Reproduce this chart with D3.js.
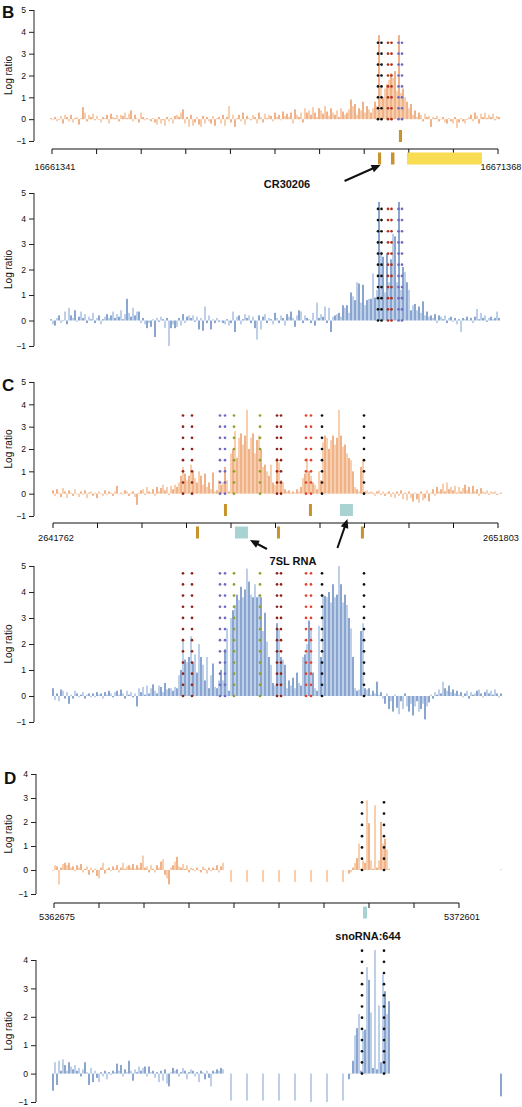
<!DOCTYPE html>
<html><head><meta charset="utf-8">
<script src="https://cdn.jsdelivr.net/npm/d3@7"></script>
<style>body{margin:0;background:#fff}svg{display:block}text{font-family:"Liberation Sans",Arial,Helvetica,sans-serif}</style>
</head><body><svg id="c" width="522" height="1107"></svg>
<script>
// ---------- DATA ----------
const bTop=[0.05,-0.05,0.1,-0.1,0.0,0.15,-0.2,0.2,0.1,-0.1,
0.2,-0.15,0.05,0.1,-0.25,0.05,0.55,0.3,-0.1,0.2,
0.1,0.25,-0.05,0.15,0.0,-0.15,0.1,0.05,0.2,-0.2,
0.25,0.1,0.05,0.2,-0.1,0.2,0.15,0.3,0.05,0.25,
0.4,-0.1,0.2,0.05,-0.15,0.3,0.1,-0.05,0.05,0.0,
-0.1,0.05,-0.15,-0.25,0.1,-0.2,-0.05,-0.3,0.1,-0.1,
0.05,-0.2,0.15,0.2,0.1,0.3,0.45,-0.2,0.1,-0.35,
0.2,-0.3,-0.15,0.1,-0.25,-0.35,0.15,-0.2,0.1,-0.1,
-0.2,0.15,-0.3,0.05,0.1,-0.2,0.2,-0.3,0.1,0.6,
-0.15,0.2,-0.35,0.05,0.2,-0.1,0.3,-0.25,0.15,0.05,
-0.05,0.2,0.1,-0.2,0.3,0.1,-0.15,0.25,0.05,0.2,
0.15,-0.1,0.3,0.1,0.2,-0.05,0.35,0.15,0.25,0.1,
0.3,-0.2,0.45,0.2,0.1,0.3,-0.15,0.5,0.3,0.4,
0.2,0.55,0.3,0.1,0.5,0.4,0.25,0.6,0.35,0.15,
0.5,0.3,0.2,0.4,0.1,0.5,0.35,0.2,0.3,0.45,
0.9,0.6,0.7,0.2,0.5,0.4,0.8,0.3,0.6,0.45,
0.3,0.5,0.8,0.6,3.85,1.5,1.0,1.4,1.6,1.8,
2.1,1.9,2.2,1.3,3.85,1.2,1.4,1.0,0.8,0.5,
0.7,0.2,0.4,0.1,0.3,0.2,-0.1,0.25,0.1,0.15,
-0.35,0.1,0.05,0.15,-0.1,0.0,0.1,-0.15,-0.2,0.05,
-0.1,-0.2,0.1,-0.4,-0.15,0.05,-0.1,-0.2,0.0,0.1,
0.2,-0.1,0.3,0.15,-0.2,0.25,0.1,0.3,0.05,0.2,
0.1,0.25,-0.05,0.15,0.1];
const bBot=[0.05,-0.15,-0.2,0.1,0.2,-0.1,0.0,0.35,-0.15,0.5,
0.2,0.1,0.4,-0.05,0.15,0.35,0.1,0.25,-0.1,0.15,
0.05,0.3,-0.1,0.1,0.2,-0.15,0.05,0.15,0.25,0.1,
0.2,0.35,0.1,0.25,0.15,0.4,0.05,0.25,0.85,0.3,
0.15,0.5,0.2,0.35,0.35,-0.1,0.1,-0.15,-0.3,-0.1,
-0.25,0.05,-0.65,0.1,-0.05,0.15,0.05,-0.3,0.1,-1.0,
-0.3,-0.15,-0.3,-0.25,0.1,-0.2,0.25,-0.1,0.15,0.2,
0.1,0.2,-0.05,0.15,-0.35,0.1,-0.4,0.55,-0.1,0.2,
-0.35,0.05,-0.1,0.1,-0.05,0.0,-0.1,-0.15,0.05,-0.2,
-0.1,0.35,-0.45,0.15,0.2,-0.15,0.05,0.25,0.1,0.2,
-0.1,0.15,-0.3,-0.75,0.2,-0.35,0.15,0.25,-0.1,0.1,
0.05,-0.15,0.3,0.1,-0.1,0.2,0.1,-0.2,0.25,0.15,
0.35,0.1,-0.25,0.2,0.4,0.35,-0.1,0.2,0.1,0.05,
-0.1,0.3,-0.2,0.7,0.1,0.25,0.15,0.55,-0.1,0.5,
-0.45,0.15,0.2,0.25,0.3,0.15,0.6,0.5,0.6,0.3,
1.1,0.95,0.8,1.5,1.45,0.7,1.4,0.6,0.8,0.85,
0.85,1.85,0.9,1.2,4.65,2.7,2.5,1.1,2.6,1.5,
2.4,3.4,3.3,1.5,4.65,1.2,2.1,1.9,1.5,1.2,
0.4,0.6,0.65,0.4,0.55,0.3,0.75,0.2,0.35,0.15,
0.2,0.1,0.25,-0.1,0.2,0.15,0.05,0.2,-0.1,0.1,
0.15,-0.05,0.1,-0.15,0.05,-0.45,0.1,0.05,0.15,0.0,
0.1,-0.1,0.15,0.45,0.05,0.3,0.1,0.2,-0.05,0.1,
0.15,0.05,0.1,0.35,0.1];
const cTop=[0.15,-0.1,0.2,0.05,-0.15,0.25,0.1,-0.2,0.15,0.05,
-0.1,0.2,0.0,-0.15,0.1,-0.05,0.15,-0.2,0.05,0.1,
-0.1,0.05,-0.2,0.1,0.0,-0.1,0.15,-0.05,0.1,0.05,
-0.1,0.1,0.35,0.0,0.05,-0.05,0.15,0.1,-0.1,0.05,
0.1,-0.15,-0.5,0.05,0.15,0.2,-0.05,0.3,0.1,0.05,
0.2,-0.1,0.3,0.1,0.25,0.4,0.15,0.3,-0.05,0.35,
0.2,0.4,0.3,0.5,0.8,1.2,0.9,0.6,0.8,1.3,
1.0,0.7,0.5,1.0,0.8,0.4,0.9,0.3,0.5,0.2,
0.95,0.1,0.15,0.6,0.4,0.5,1.2,0.6,0.1,1.8,
2.0,2.8,1.6,2.5,2.7,2.2,2.6,3.75,2.0,2.5,
2.7,1.8,2.4,2.6,2.0,1.2,1.3,1.0,0.8,1.3,
0.5,0.4,1.6,1.4,0.6,0.5,0.2,0.1,0.15,0.05,
0.1,0.05,0.2,0.1,0.3,0.7,0.9,1.6,1.0,0.8,
0.5,0.4,0.2,1.0,0.6,2.3,2.6,2.5,2.0,2.4,
2.6,2.2,2.5,3.75,2.6,2.1,2.2,1.8,1.6,1.5,
1.0,0.3,0.2,0.1,1.2,1.55,0.1,0.15,0.05,0.1,
0.05,-0.1,0.1,0.15,-0.05,0.1,-0.1,0.05,0.1,-0.15,
0.05,-0.2,0.1,-0.1,0.15,-0.25,0.05,-0.3,0.1,-0.2,
-0.35,0.05,-0.25,-0.4,0.1,-0.3,-0.2,0.15,-0.35,0.05,
0.2,-0.1,0.3,0.1,0.2,0.45,0.1,0.5,0.2,0.3,
0.15,0.35,0.05,0.3,0.1,0.25,0.4,0.15,0.3,0.05,
0.35,0.1,0.2,-0.1,0.25,0.1,0.05,0.15,-0.05,0.1,
0.05,0.1,-0.05,0.0,0.05];
const cBot=[0.3,-0.15,0.1,-0.2,0.25,0.2,-0.1,0.15,-0.3,0.05,
-0.1,0.2,0.1,-0.05,0.05,0.15,-0.1,0.05,0.1,-0.05,
0.1,-0.05,0.15,0.05,0.1,-0.1,0.15,0.05,0.2,0.1,
-0.05,0.15,0.2,0.05,0.25,0.1,-0.1,0.2,0.05,0.15,
-0.05,0.1,-0.4,0.3,0.15,0.35,0.05,0.4,0.1,0.3,
0.45,0.2,0.1,0.4,0.35,0.15,0.5,0.25,0.3,0.3,
0.2,0.35,0.3,0.8,1.0,2.2,1.4,1.3,1.5,2.3,
1.3,1.6,0.9,2.0,1.5,1.2,0.6,1.5,0.3,0.8,
1.25,0.35,0.3,0.6,1.0,0.6,1.8,2.6,0.2,3.0,
3.3,3.5,3.9,3.7,4.2,3.8,4.1,4.9,4.4,3.9,
3.8,4.3,3.8,3.9,3.8,2.5,3.2,2.1,1.5,1.2,
0.5,0.4,2.8,2.6,1.5,1.4,1.2,0.3,0.6,0.4,
0.7,0.3,0.9,0.5,0.4,1.5,1.6,2.0,2.9,2.6,
0.9,0.3,0.2,2.7,1.5,3.9,3.85,3.8,4.0,3.6,
4.3,3.8,3.9,5.0,4.3,3.6,3.9,3.5,3.0,2.6,
1.5,0.3,0.2,0.25,2.5,2.8,0.3,0.25,0.3,0.05,
0.2,0.1,0.55,0.05,0.15,-0.1,-0.3,0.1,-0.5,-0.2,
-0.6,0.05,-0.45,-0.7,-0.2,-0.5,0.1,-0.4,-0.6,-0.3,
-0.75,-0.4,-0.2,-0.6,-0.5,-0.3,-0.9,-0.4,-0.25,0.05,
-0.1,0.15,0.05,0.25,0.1,0.55,0.3,0.2,0.4,0.15,
0.25,0.1,0.2,0.05,0.15,-0.05,0.1,0.2,-0.1,0.15,
0.05,0.1,0.2,0.25,0.1,-0.05,0.15,0.25,0.1,0.2,
0.05,0.25,0.1,-0.05,0.1];
// panel D: probes only where tiled (indices), values per segment
const dNoiseTop=[0.0,0.2,0.15,-0.6,0.1,0.25,0.3,0.2,0.3,0.1,
0.15,-0.05,0.2,0.1,0.25,-0.1,0.05,0.15,-0.2,0.1,
-0.1,0.05,-0.25,-0.35,0.1,0.3,-0.15,0.05,0.1,-0.05,
0.15,0.05,0.2,-0.1,0.1,0.3,0.05,0.15,0.2,0.1,
0.25,0.05,0.2,0.1,0.3,0.6,0.1,0.15,-0.1,0.2,
0.05,-0.1,0.2,0.1,0.35,0.45,-0.2,-0.35,-0.6,0.1,
0.2,0.35,0.55,0.15,0.1,0.25,0.05,0.2,-0.1,0.1,
0.05,-0.05,0.1,0.0,-0.1,0.15,0.05,-0.15,0.1,-0.05,
0.1,0.05,0.2,-0.1,0.15,0.3];
const dNoiseBot=[-0.6,0.4,-0.4,0.45,0.1,0.5,0.3,0.1,0.4,0.25,
0.15,0.3,0.1,0.2,-0.1,0.15,0.4,0.05,-0.4,0.2,
-0.3,0.1,-0.15,-0.3,0.05,-0.1,0.1,-0.2,0.05,-0.05,
0.1,0.05,0.35,0.1,0.3,-0.1,0.15,0.05,0.45,0.1,
-0.25,0.15,0.05,0.25,0.1,0.2,0.25,-0.1,0.25,0.05,
0.1,-0.15,0.05,-0.3,0.1,-0.25,0.15,-0.35,-0.45,0.05,
0.2,0.1,0.15,-0.1,0.05,0.2,0.1,-0.2,0.05,0.15,
0.1,-0.1,0.05,-0.3,0.1,0.05,-0.2,0.1,-0.15,-0.45,
0.1,0.05,0.15,0.1,0.2,0.15];
const dGapIdx=[89,97,105,113,121,129,137,145];
const dGapTop=[-0.5,-0.5,-0.5,-0.5,-0.5,-0.5,-0.5,-0.5];
const dGapBot=[-0.95,-0.95,-0.95,-0.95,-0.95,-1.0,-1.0,-0.95];
const dPeakStart=148;
const dPeakTop=[-0.15,-0.1,0.1,0.3,0.5,1.1,0.05,0.4,0.3,2.9,1.95,0.4,0.05,2.7,0.1,0.4,2.0,1.1,1.3,0.85,0.05];
const dPeakBot=[-0.2,0.0,0.45,1.35,1.6,2.1,0.1,1.5,1.55,3.75,3.3,2.15,0.2,4.35,0.15,2.4,0.4,3.5,2.9,2.1,2.55];
const dFarIdx=224, dFarTop=0.02, dFarBot=-0.8;

// binding-site markers (probe index units)
const DR="#8e2418",PU="#6f6cc0",GR="#8fa12a",RD="#e2422e",BK="#111";
const bMarkers=[{i:163.5,c:BK},{i:165.25,c:BK},{i:168.5,c:"#b0301e"},{i:170.25,c:"#b0301e"},{i:173.75,c:PU},{i:175.5,c:PU}];
const cMarkers=[{i:65,c:DR},{i:69.5,c:DR},{i:83.5,c:PU},{i:86,c:PU},{i:90.5,c:GR},{i:103.5,c:GR},{i:112,c:DR},{i:114,c:DR},{i:126.5,c:RD},{i:129,c:RD},{i:134.5,c:BK},{i:155.5,c:BK}];
const dMarkers=[{i:154.5,c:BK},{i:165.5,c:BK}];

// genomic coordinates
const bRange=[16661341,16671368], cRange=[2641762,2651803], dRange=[5362675,5372601];
const GENE="#c8922c",YEL="#f8dc52",TEAL="#a9d3d3";
const bFeatures=[{s:16669140,e:16669210,up:true,c:GENE},{s:16668670,e:16668740,up:false,c:GENE},{s:16668962,e:16669040,up:false,c:GENE},{s:16669321,e:16671007,up:false,c:YEL}];
const cFeatures=[{s:2645620,e:2645687,up:true,c:GENE},{s:2647537,e:2647605,up:true,c:GENE},{s:2648237,e:2648530,up:true,c:TEAL},
{s:2644988,e:2645056,up:false,c:GENE},{s:2645868,e:2646161,up:false,c:TEAL},{s:2646815,e:2646883,up:false,c:GENE},{s:2648710,e:2648778,up:false,c:GENE}];
const dFeatures=[{s:5370248,e:5370347,up:false,c:TEAL}];
const geneNames=["CR30206","7SL RNA","snoRNA:644"];
const yTicksBC=[-1,0,1,2,3,4,5], yTicksD=[-1,0,1,2,3,4];

// ---------- DRAW ----------
const svg=d3.select("#c");
const COL={orange:["#e4752a","#f0a86f"],blue:["#2c5ea9","#88a9d8"]};

function track(o){
  const y=d3.scaleLinear().domain([-1,o.ymax]).range([o.yb,o.yt]);
  const x=d3.scaleLinear().domain([0,224]).range([o.r0,o.r0+448]);
  const g=svg.append("g");
  const cols=COL[o.col];
  g.selectAll("rect.bar").data(o.data).join("rect")
    .attr("x",d=>x(d.i)-0.55).attr("width",1.1)
    .attr("y",d=>Math.min(y(d.v),y(0))).attr("height",d=>Math.max(0.6,Math.abs(y(d.v)-y(0))))
    .attr("fill",d=>d.i%2===0?cols[0]:cols[1]);
  o.markers.forEach(m=>{
    const rows=d3.range(o.rows);
    g.selectAll(null).data(rows).join("circle")
      .attr("cx",x(m.i)).attr("cy",k=>y(0)+k*(y(o.mtop)-y(0))/(o.rows-1))
      .attr("r",1.35).attr("fill",m.c);
  });
  const ax=g.append("g").attr("transform",`translate(${o.ax},0)`)
    .call(d3.axisLeft(y).tickValues(o.ticks).tickSize(5).tickPadding(3).tickFormat(d=>d<0?"\u22121":d));
  ax.select(".domain").attr("d",`M0,${y(-1)}V${y(o.ymax)}`).attr("stroke","#222");
  ax.selectAll(".tick line").attr("stroke","#222");
  ax.selectAll("text").attr("font-size",8.6).attr("fill","#111").style("font-family",'"Liberation Sans",Arial,sans-serif');
  g.append("text").attr("transform",`translate(12,${(y(-1)+y(o.ymax))/2}) rotate(-90)`)
    .attr("text-anchor","middle").attr("font-size",10).attr("fill","#111").text("Log ratio");
}

function genomic(o){
  const gx=d3.scaleLinear().domain(o.range).range([o.x0,o.x1]);
  const g=svg.append("g");
  const ticks=d3.range(o.n+1).map(k=>o.range[0]+k*(o.range[1]-o.range[0])/o.n);
  g.append("line").attr("x1",o.x0).attr("x2",o.x1).attr("y1",o.ay).attr("y2",o.ay).attr("stroke","#111").attr("stroke-width",1.2);
  g.selectAll("line.t").data(ticks).join("line").attr("class","t")
    .attr("x1",d=>gx(d)).attr("x2",d=>gx(d)).attr("y1",o.ay).attr("y2",o.ay+5).attr("stroke","#111");
  g.selectAll("text.l").data([o.range[0],o.range[1]]).join("text").attr("class","l")
    .attr("x",d=>gx(d)+3).attr("y",o.ay+o.ly).attr("text-anchor","middle").attr("font-size",9.2).attr("fill","#111").text(d=>d);
  g.selectAll("rect.f").data(o.features).join("rect").attr("class","f")
    .attr("x",d=>gx(d.s)).attr("width",d=>Math.max(2.5,gx(d.e)-gx(d.s)))
    .attr("y",d=>d.up?o.ay-19:o.ay+3.5).attr("height",12).attr("fill",d=>d.c);
  return {gx,g};
}

function arrow(g,tip,dx,dy){
  const [tx,ty]=tip, L=Math.hypot(dx,dy), ux=-dx/L, uy=-dy/L;
  const hl=9,hw=4;
  const bx=tx-ux*hl, by=ty-uy*hl;
  g.append("line").attr("x1",tx+dx).attr("y1",ty+dy).attr("x2",bx+ux*1).attr("y2",by+uy*1).attr("stroke","#111").attr("stroke-width",2);
  g.append("path").attr("d",`M${tx},${ty}L${bx-uy*hw},${by+ux*hw}L${bx+uy*hw},${by-ux*hw}Z`).attr("fill","#111");
}

function probes(arr){return arr.map((v,i)=>({i,v}));}
function dProbes(noise,gap,peak,far){
  const out=noise.map((v,i)=>({i,v}));
  dGapIdx.forEach((ix,k)=>out.push({i:ix,v:gap[k]}));
  peak.forEach((v,k)=>out.push({i:dPeakStart+k,v}));
  out.push({i:dFarIdx,v:far});
  return out;
}
function bold(t,x,y,s){svg.append("text").attr("x",x).attr("y",y).attr("font-size",s).attr("font-weight","bold").attr("fill","#111").attr("text-anchor","middle").text(t);}
function letter(t,x,y){svg.append("text").attr("x",x).attr("y",y).attr("font-size",17).attr("font-weight","bold").attr("fill","#111").text(t);}

// Panel B
track({data:probes(bTop),col:"orange",ymax:5,yt:10,yb:141,r0:51,ax:34,ticks:yTicksBC,markers:bMarkers,mtop:3.5,rows:8});
let G=genomic({range:bRange,x0:52,x1:498,ay:149,n:10,ly:21,features:bFeatures});
arrow(G.g,[G.gx(16668705)+1,165],-36,16);
bold(geneNames[0],287,188,11);
track({data:probes(bBot),col:"blue",ymax:5,yt:193,yb:346,r0:51,ax:34,ticks:yTicksBC,markers:bMarkers,mtop:4.375,rows:11});
letter("B",2,18);

// Panel C
track({data:probes(cTop),col:"orange",ymax:5,yt:382,yb:516,r0:53,ax:34,ticks:yTicksBC,markers:cMarkers,mtop:3.5,rows:8});
G=genomic({range:cRange,x0:53,x1:498,ay:523,n:10,ly:18,features:cFeatures});
arrow(G.g,[G.gx(2646161)+2,540],17,9);
arrow(G.g,[G.gx(2648383)+1,519],-10,29);
bold(geneNames[1],293,565,11);
track({data:probes(cBot),col:"blue",ymax:5,yt:566,yb:722,r0:53,ax:34,ticks:yTicksBC,markers:cMarkers,mtop:4.72,rows:12});
letter("C",2,391);

// Panel D
track({data:dProbes(dNoiseTop,dGapTop,dPeakTop,dFarTop),col:"orange",ymax:4,yt:774,yb:894,r0:53,ax:36,ticks:yTicksD,markers:dMarkers,mtop:2.82,rows:7});
G=genomic({range:dRange,x0:54,x1:459,ay:903,n:9,ly:17,features:dFeatures});
bold(geneNames[2],368,940,11);
track({data:dProbes(dNoiseBot,dGapBot,dPeakBot,dFarBot),col:"blue",ymax:4,yt:960,yb:1102,r0:53,ax:36,ticks:yTicksD,markers:dMarkers,mtop:4.33,rows:12});
letter("D",4,784);
</script></body></html>
